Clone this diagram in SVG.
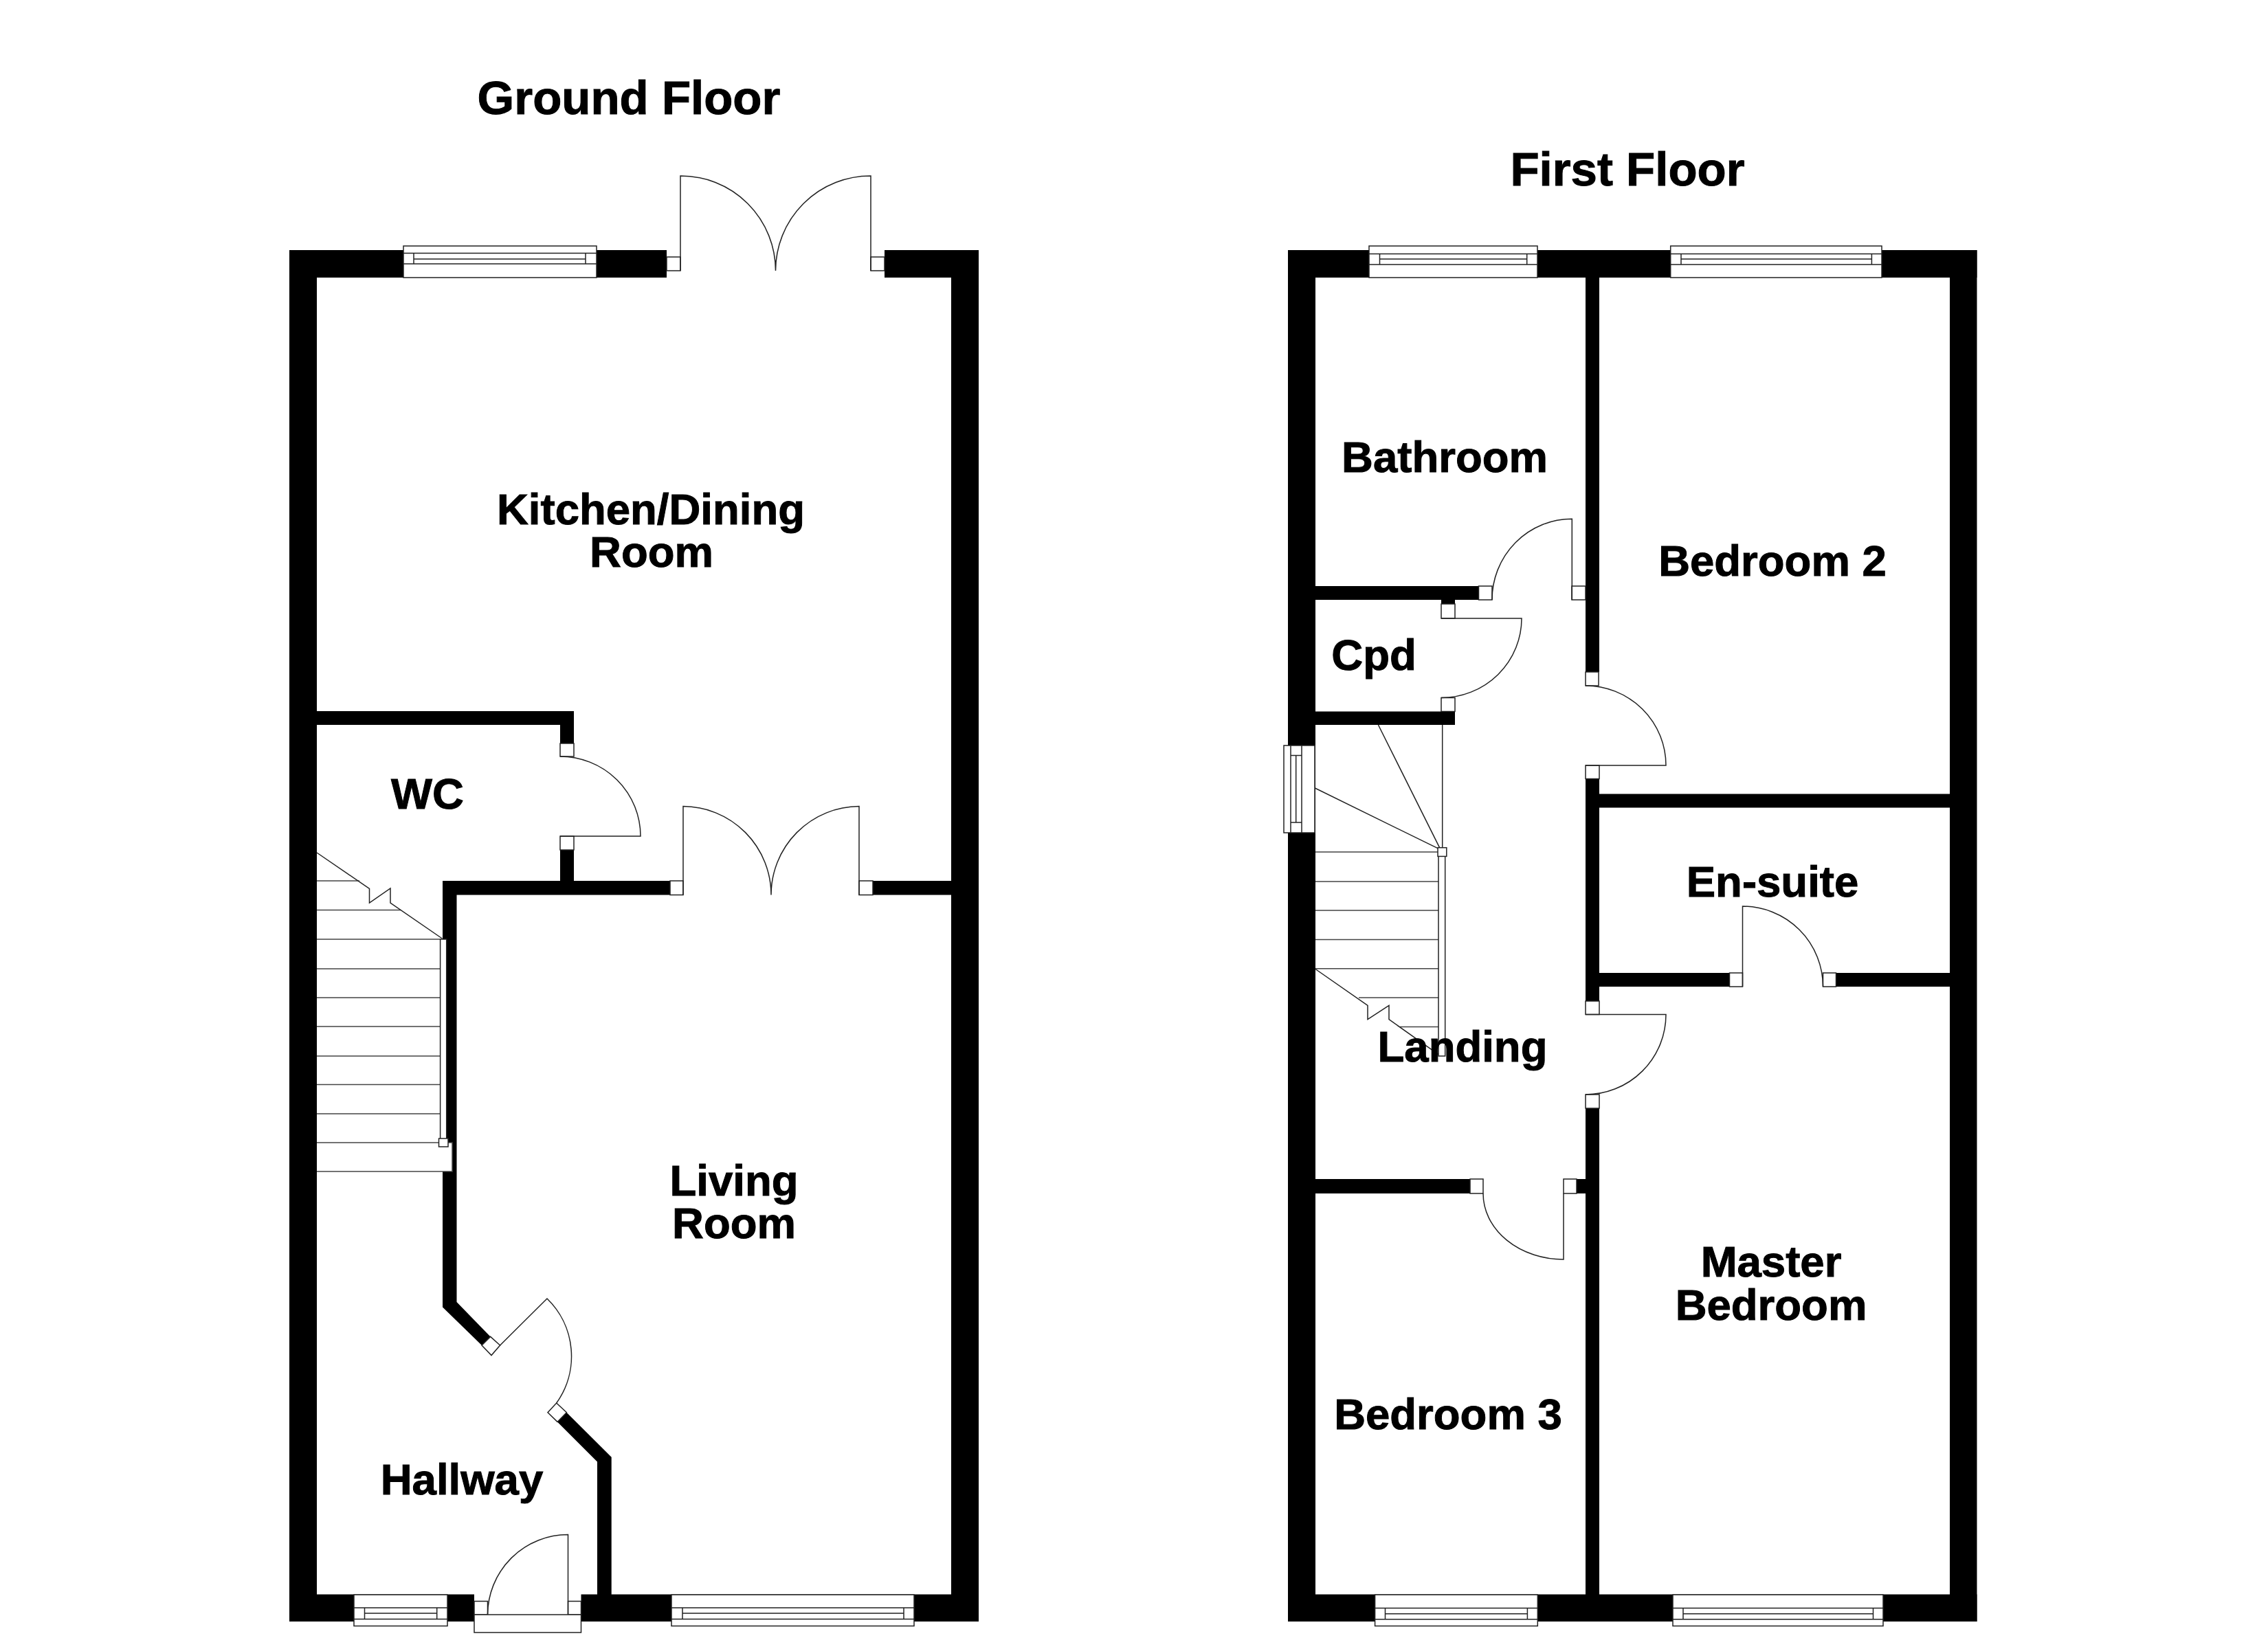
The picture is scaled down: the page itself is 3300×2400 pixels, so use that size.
<svg xmlns="http://www.w3.org/2000/svg" width="3300" height="2400" viewBox="0 0 3300 2400">
<style>
.w{fill:#000;stroke:none}
.j{fill:#fff;stroke:#222;stroke-width:1.5}
.l{fill:none;stroke:#222;stroke-width:1.5}
.t{fill:none;stroke:#444;stroke-width:1.5}
text{font-family:"Liberation Sans",Arial,sans-serif;font-weight:bold;fill:#000;stroke:#000;stroke-width:1;text-anchor:middle;font-size:63.500px}
.h{font-size:69px}
</style>
<rect width="3300" height="2400" fill="#fff"/>
<text class="h" x="915" y="166">Ground Floor</text>
<text class="h" x="2368" y="270">First Floor</text>

<g id="ground-floor">
<g id="ground-walls">
<rect class="w" x="421" y="364" width="40" height="1996"/>
<rect class="w" x="1384" y="364" width="40" height="1996"/>
<rect class="w" x="421" y="364" width="549" height="40"/>
<rect class="w" x="1287" y="364" width="137" height="40"/>
<rect class="w" x="421" y="2320.5" width="269" height="39.5"/>
<rect class="w" x="845.5" y="2320.5" width="578.5" height="39.5"/>
<rect class="w" x="461" y="1035" width="374" height="20"/>
<rect class="w" x="815" y="1035" width="20" height="47"/>
<rect class="w" x="815" y="1237" width="20" height="45"/>
<rect class="w" x="644" y="1282" width="331" height="20.5"/>
<rect class="w" x="1270" y="1282" width="114" height="20.5"/>
<polygon class="w" points="644,1282 664.500,1282 664.500,1895 713.600,1945.400 701,1958 644,1902.600"/>
<polygon class="w" points="824.400,2055.700 889.700,2120.700 889.700,2321 869,2321 869,2127.600 811,2069.400"/>
</g>
<g id="ground-windows">
<rect class="j" x="587" y="358" width="281" height="46"/>
<path class="l" d="M587 368.500H868M587 384H868M602 368.500V384M852 368.500V384M602 377H852"/>
<rect class="j" x="515" y="2321" width="136" height="45.500"/>
<path class="l" d="M515 2340H651M515 2356.500H651M530.500 2340V2356.500M635.700 2340V2356.500M530.500 2348H635.700"/>
<rect class="j" x="977" y="2321" width="353" height="45.500"/>
<path class="l" d="M977 2340H1330M977 2356.500H1330M993 2340V2356.500M1315 2340V2356.500M993 2348H1315"/>
</g>
<g id="ground-doors">
<rect class="j" x="970" y="374" width="20" height="20"/>
<rect class="j" x="1267" y="374" width="20" height="20"/>
<path class="l" d="M990 394V256A138 138 0 0 1 1128.500 394A138 138 0 0 1 1267 256V394"/>
<rect class="j" x="815" y="1082" width="20" height="19"/>
<rect class="j" x="815" y="1217" width="20" height="20"/>
<path class="l" d="M815 1101A117 116 0 0 1 932 1217H815"/>
<rect class="j" x="975" y="1282" width="19" height="20.500"/>
<rect class="j" x="1250" y="1282" width="20" height="20.500"/>
<path class="l" d="M994 1302.500V1173.500A129 129 0 0 1 1122 1302.500A129 129 0 0 1 1250 1173.500V1302.500"/>
<polygon class="j" points="713.600,1945.400 727.600,1958 715,1972.600 701,1958"/>
<polygon class="j" points="809.700,2042 824.400,2055.700 811,2069.400 797,2055.700"/>
<path class="l" d="M727.600 1958L796 1890A117 117 0 0 1 809.700 2042"/>
<rect class="j" x="690" y="2330.500" width="19.500" height="19.500"/>
<rect class="j" x="826.500" y="2330.500" width="19" height="19.500"/>
<rect class="j" x="690" y="2350" width="155.500" height="26"/>
<path class="l" d="M826.500 2350V2233.600A117 117 0 0 0 709.500 2350"/>
</g>
<g id="ground-stairs">
<rect x="644" y="1663" width="14" height="42" fill="#fff"/>
<path class="t" d="M461 1282H523M461 1324.500H583M461 1367H640.600M461 1410H640.600M461 1452H640.600M461 1494H640.600M461 1537H640.600M461 1578.600H640.600M461 1621H640.600M461 1663H658V1705H461"/>
<rect class="j" x="640.600" y="1367" width="9.100" height="291"/>
<rect class="j" x="638.500" y="1657" width="13.500" height="12"/>
<path class="l" d="M461 1241L537.500 1293.400V1314L568 1293V1314L643.400 1366"/>
</g>
</g>

<g id="first-floor">
<g id="first-walls">
<rect class="w" x="1874" y="364" width="40" height="1996"/>
<rect class="w" x="2837" y="364" width="39.500" height="1996"/>
<rect class="w" x="1874" y="364" width="1002.500" height="40"/>
<rect class="w" x="1874" y="2320.500" width="1002.500" height="39.500"/>
<rect class="w" x="2307" y="364" width="20" height="614"/>
<rect class="w" x="2307" y="1133" width="20" height="324"/>
<rect class="w" x="2307" y="1613" width="20" height="708"/>
<rect class="w" x="2327" y="1155.500" width="510" height="20"/>
<rect class="w" x="2327" y="1416" width="189.500" height="20"/>
<rect class="w" x="2671.500" y="1416" width="165.500" height="20"/>
<rect class="w" x="1914" y="853" width="237.500" height="20"/>
<rect class="w" x="2097" y="873" width="20" height="6"/>
<rect class="w" x="1914" y="1035.500" width="203" height="19.500"/>
<rect class="w" x="1914" y="1716" width="225" height="21"/>
<rect class="w" x="2294" y="1716" width="13" height="21"/>
</g>
<g id="first-windows">
<rect class="j" x="1992" y="358" width="245" height="46"/>
<path class="l" d="M1992 369.500H2237M1992 385H2237M2007.500 369.500V385M2221.700 369.500V385M2007.500 377H2221.700"/>
<rect class="j" x="2430.700" y="358" width="307.300" height="46"/>
<path class="l" d="M2430.700 369.500H2738M2430.700 385H2738M2446 369.500V385M2723.400 369.500V385M2446 377H2723.400"/>
<rect class="j" x="1868" y="1085" width="45" height="127"/>
<path class="l" d="M1878 1085V1212M1894 1085V1212M1878 1099.500H1894M1878 1197H1894M1885.700 1099.500V1197"/>
<rect class="j" x="2000.600" y="2321" width="236.700" height="45.500"/>
<path class="l" d="M2000.600 2340.500H2237.300M2000.600 2356.700H2237.300M2015.500 2340.500V2356.700M2222.400 2340.500V2356.700M2015.500 2348.700H2222.400"/>
<rect class="j" x="2434" y="2321" width="306" height="45.500"/>
<path class="l" d="M2434 2340.500H2740M2434 2356.700H2740M2449 2340.500V2356.700M2725.500 2340.500V2356.700M2449 2348.700H2725.500"/>
</g>
<g id="first-doors">
<rect class="j" x="2307" y="978" width="19" height="20"/>
<rect class="j" x="2307" y="1114" width="20" height="19.500"/>
<path class="l" d="M2307 998A117 116 0 0 1 2424 1114H2307"/>
<rect class="j" x="2307" y="1457" width="20" height="19.500"/>
<rect class="j" x="2307" y="1593" width="20" height="20"/>
<path class="l" d="M2307 1476.500H2424A117 116.500 0 0 1 2307 1593"/>
<rect class="j" x="2516.500" y="1416" width="19" height="20"/>
<rect class="j" x="2652.500" y="1416" width="19" height="20"/>
<path class="l" d="M2535.500 1436V1319A117 117 0 0 1 2652.500 1436"/>
<rect class="j" x="2151.500" y="853" width="19.500" height="20"/>
<rect class="j" x="2287" y="853" width="20" height="20"/>
<path class="l" d="M2171 873A116 117.500 0 0 1 2287.300 755.300V873"/>
<rect class="j" x="2097" y="879" width="20" height="21"/>
<rect class="j" x="2097" y="1015.500" width="20" height="20"/>
<path class="l" d="M2097 900H2214A117 115.500 0 0 1 2097 1015.500"/>
<rect class="j" x="2139" y="1716" width="19" height="21"/>
<rect class="j" x="2275" y="1716" width="19" height="21"/>
<path class="l" d="M2158 1737A117 96 0 0 0 2275 1833V1737"/>
</g>
<g id="first-stairs">
<path class="t" d="M1914 1240H2093M1914 1283H2093M1914 1325H2093M1914 1367.500H2093M1914 1409.700H2093M1977 1452H2093M2037 1494.500H2093"/>
<path class="l" d="M2098.700 1055V1234M2005.400 1055L2094.600 1233.700M1913.400 1147L2092 1234.700"/>
<rect class="j" x="2093" y="1246" width="9.700" height="291"/>
<rect class="j" x="2092" y="1233.700" width="12.800" height="12.700"/>
<path class="l" d="M1913.400 1410L1990 1463.300V1483.700L2021 1463.300V1483.700L2093 1534.700"/>
</g>
</g>

<g id="room-labels">
<text x="947" y="763">Kitchen/Dining</text>
<text x="948" y="825">Room</text>
<text x="622" y="1177">WC</text>
<text x="1068" y="1740">Living</text>
<text x="1068" y="1802">Room</text>
<text x="672" y="2175">Hallway</text>
<text x="2102" y="687">Bathroom</text>
<text x="2579" y="838">Bedroom 2</text>
<text x="1999" y="975">Cpd</text>
<text x="2579" y="1305">En-suite</text>
<text x="2128" y="1545">Landing</text>
<text x="2577" y="1858">Master</text>
<text x="2577" y="1921">Bedroom</text>
<text x="2107" y="2080">Bedroom 3</text>
</g>
</svg>
